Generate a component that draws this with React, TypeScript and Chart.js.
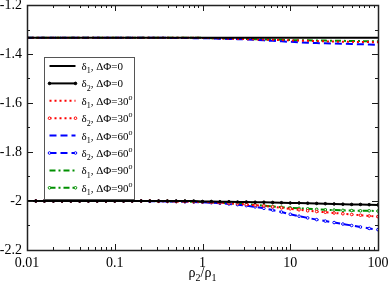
import React, { useEffect, useRef } from "react";
import { Chart, registerables } from "chart.js";

Chart.register(...registerables);

// ---- data ----
const xValues = [
  0.01, 0.0126, 0.0158, 0.02, 0.0251, 0.0316, 0.0398, 0.0501, 0.0631, 0.0794,
  0.1, 0.126, 0.158, 0.2, 0.251, 0.316, 0.398, 0.501, 0.631, 0.794,
  1, 1.26, 1.58, 2, 2.51, 3.16, 3.98, 5.01, 6.31, 7.94,
  10, 12.6, 15.8, 20, 25.1, 31.6, 39.8, 50.1, 63.1, 79.4, 100,
];

const delta1_0 = [
  -1.3333, -1.3333, -1.3333, -1.3333, -1.3333, -1.3333, -1.3333, -1.3333, -1.3333, -1.3333,
  -1.3333, -1.3333, -1.3333, -1.3333, -1.3333, -1.3333, -1.3333, -1.3333, -1.3333, -1.3333,
  -1.3333, -1.3333, -1.3333, -1.3333, -1.3333, -1.3333, -1.3333, -1.3333, -1.3333, -1.3333,
  -1.3333, -1.3333, -1.3333, -1.3333, -1.3333, -1.3333, -1.3333, -1.3333, -1.3333, -1.3333, -1.3333,
];
const delta2_0 = [
  -2.0, -2.0, -2.0, -2.0, -2.0, -2.0, -2.0, -2.0, -2.0, -2.0,
  -2.0, -2.0, -2.0, -2.0, -2.0, -2.0, -2.0, -2.0, -2.0, -2.0,
  -2.002, -2.002, -2.003, -2.003, -2.004, -2.004, -2.005, -2.005, -2.006, -2.007,
  -2.008, -2.008, -2.009, -2.01, -2.011, -2.012, -2.013, -2.014, -2.014, -2.015, -2.016,
];
const delta1_30 = [
  -1.3333, -1.3333, -1.3333, -1.3333, -1.3333, -1.3333, -1.3333, -1.3333, -1.3333, -1.3333,
  -1.3333, -1.3333, -1.3333, -1.3333, -1.3333, -1.3333, -1.3333, -1.3333, -1.3333, -1.3333,
  -1.3343, -1.3353, -1.3363, -1.3373, -1.3383, -1.3393, -1.3403, -1.3413, -1.3423, -1.3433,
  -1.3443, -1.3453, -1.3463, -1.3473, -1.3483, -1.3493, -1.3503, -1.3503, -1.3513, -1.3513, -1.3523,
];
const delta2_30 = [
  -2.0, -2.0, -2.0, -2.0, -2.0, -2.0, -2.0, -2.0, -2.0, -2.0,
  -2.0, -2.0, -2.0, -2.0, -2.0, -2.001, -2.001, -2.002, -2.002, -2.003,
  -2.004, -2.005, -2.007, -2.009, -2.011, -2.014, -2.017, -2.02, -2.024, -2.028,
  -2.032, -2.036, -2.04, -2.043, -2.046, -2.049, -2.052, -2.055, -2.058, -2.061, -2.064,
];
const delta1_60 = [
  -1.3333, -1.3333, -1.3333, -1.3333, -1.3333, -1.3333, -1.3333, -1.3333, -1.3333, -1.3333,
  -1.3333, -1.3333, -1.3333, -1.3333, -1.3333, -1.3333, -1.3343, -1.3343, -1.3343, -1.3353,
  -1.3353, -1.3363, -1.3373, -1.3383, -1.3393, -1.3403, -1.3423, -1.3443, -1.3463, -1.3483,
  -1.3503, -1.3523, -1.3543, -1.3553, -1.3563, -1.3573, -1.3583, -1.3593, -1.3603, -1.3613, -1.3623,
];
const delta2_60 = [
  -2.0, -2.0, -2.0, -2.0, -2.0, -2.0, -2.0, -2.0, -2.0, -2.0,
  -2.0, -2.0, -2.0, -2.0, -2.001, -2.001, -2.002, -2.002, -2.003, -2.004,
  -2.005, -2.007, -2.009, -2.012, -2.015, -2.019, -2.024, -2.03, -2.037, -2.045,
  -2.054, -2.062, -2.069, -2.076, -2.082, -2.088, -2.094, -2.1, -2.106, -2.112, -2.117,
];
const delta1_90 = [
  -1.3333, -1.3333, -1.3333, -1.3333, -1.3333, -1.3333, -1.3333, -1.3333, -1.3333, -1.3333,
  -1.3333, -1.3333, -1.3333, -1.3333, -1.3333, -1.3333, -1.3333, -1.3333, -1.3333, -1.3333,
  -1.3343, -1.3353, -1.3363, -1.3363, -1.3373, -1.3383, -1.3393, -1.3403, -1.3413, -1.3423,
  -1.3433, -1.3443, -1.3443, -1.3453, -1.3453, -1.3463, -1.3463, -1.3473, -1.3473, -1.3483, -1.3483,
];
const delta2_90 = [
  -2.0, -2.0, -2.0, -2.0, -2.0, -2.0, -2.0, -2.0, -2.0, -2.0,
  -2.0, -2.0, -2.0, -2.0, -2.0, -2.001, -2.001, -2.002, -2.002, -2.003,
  -2.004, -2.005, -2.007, -2.009, -2.011, -2.013, -2.016, -2.019, -2.022, -2.025,
  -2.028, -2.03, -2.032, -2.034, -2.036, -2.037, -2.038, -2.039, -2.04, -2.04, -2.041,
];

const legendLabels = [
  "δ_1, ΔΦ=0",
  "δ_2, ΔΦ=0",
  "δ_1, ΔΦ=30^o",
  "δ_2, ΔΦ=30^o",
  "δ_1, ΔΦ=60^o",
  "δ_2, ΔΦ=60^o",
  "δ_1, ΔΦ=90^o",
  "δ_1, ΔΦ=90^o",
];

const xTickValues = [0.01, 0.1, 1, 10, 100];
const yTickValues = [-1.2, -1.4, -1.6, -1.8, -2.0, -2.2];
const yTickLabels = ["-1.2", "-1.4", "-1.6", "-1.8", "-2", "-2.2"];
const yMinorTicks = [-1.3, -1.5, -1.7, -1.9, -2.1];
const xTitle = "ρ_2/ρ_1";

// ---- styles ----
const BLACK = "#000000";
const RED = "#ff0000";
const BLUE = "#0000ff";
const GREEN = "#008f00";
const SERIF = "'Liberation Serif', 'Times New Roman', 'DejaVu Serif', serif";

const seriesDefs = [
  { data: delta1_0, color: BLACK, dash: [] as number[], marker: false },
  { data: delta2_0, color: BLACK, dash: [] as number[], marker: true },
  { data: delta1_30, color: RED, dash: [2, 3], marker: false },
  { data: delta2_30, color: RED, dash: [2, 3], marker: true },
  { data: delta1_60, color: BLUE, dash: [7, 4], marker: false },
  { data: delta2_60, color: BLUE, dash: [7, 4], marker: true },
  { data: delta1_90, color: GREEN, dash: [6, 3, 2, 3], marker: false },
  { data: delta2_90, color: GREEN, dash: [6, 3, 2, 3], marker: true },
];

function drawRich(ctx: CanvasRenderingContext2D, text: string, x: number, y: number, size: number, align: "left" | "center") {
  const parts: { t: string; mode: number }[] = [];
  let i = 0;
  while (i < text.length) {
    const c = text[i];
    if ((c === "_" || c === "^") && i + 1 < text.length) {
      parts.push({ t: text[i + 1], mode: c === "_" ? 1 : 2 });
      i += 2;
    } else {
      if (parts.length && parts[parts.length - 1].mode === 0) parts[parts.length - 1].t += c;
      else parts.push({ t: c, mode: 0 });
      i++;
    }
  }
  const small = Math.round(size * 0.7);
  const widths = parts.map((p) => {
    ctx.font = `${p.mode ? small : size}px ${SERIF}`;
    return ctx.measureText(p.t).width;
  });
  const total = widths.reduce((a, b) => a + b, 0);
  let cx = align === "center" ? x - total / 2 : x;
  ctx.textBaseline = "alphabetic";
  ctx.textAlign = "left";
  parts.forEach((p, k) => {
    ctx.font = `${p.mode ? small : size}px ${SERIF}`;
    const dy = p.mode === 1 ? size * 0.3 : p.mode === 2 ? -size * 0.45 : 0;
    ctx.fillText(p.t, cx, y + dy);
    cx += widths[k];
  });
}

const decorPlugin = {
  id: "decor",
  afterDraw(chart: any) {
    const { ctx, chartArea: a, scales } = chart;
    const xs = scales.x;
    const ys = scales.y;
    ctx.save();
    ctx.strokeStyle = "#1a1a1a";
    ctx.lineWidth = 1;
    ctx.setLineDash([]);
    ctx.beginPath();
    const hTick = (v: number, len: number) => {
      const p = Math.round(ys.getPixelForValue(v)) + 0.5;
      ctx.moveTo(a.left, p);
      ctx.lineTo(a.left + len, p);
      ctx.moveTo(a.right, p);
      ctx.lineTo(a.right - len, p);
    };
    const vTick = (v: number, len: number) => {
      const p = Math.round(xs.getPixelForValue(v)) + 0.5;
      ctx.moveTo(p, a.bottom);
      ctx.lineTo(p, a.bottom - len);
      ctx.moveTo(p, a.top);
      ctx.lineTo(p, a.top + len);
    };
    yTickValues.forEach((v) => hTick(v, 6));
    yMinorTicks.forEach((v) => hTick(v, 3));
    xTickValues.forEach((v) => vTick(v, 6));
    xTickValues.slice(0, -1).forEach((d) => {
      for (let m = 2; m <= 9; m++) vTick(d * m, 3);
    });
    ctx.stroke();
    ctx.lineWidth = 1.5;
    ctx.strokeStyle = "#222";
    ctx.strokeRect(Math.round(a.left) + 0.5, Math.round(a.top) + 0.5, Math.round(a.right - a.left), Math.round(a.bottom - a.top));

    // legend
    const bx = Math.round(a.left) + 17 + 0.5;
    const by = Math.round(a.top) + 52 + 0.5;
    const bw = 90;
    const bh = 142;
    ctx.fillStyle = "#ffffff";
    ctx.fillRect(bx, by, bw, bh);
    ctx.lineWidth = 1;
    ctx.strokeStyle = "#555";
    ctx.strokeRect(bx, by, bw, bh);
    seriesDefs.forEach((s, k) => {
      const cy = by + 8.5 + k * 17.4;
      ctx.strokeStyle = s.color;
      ctx.lineWidth = 2;
      ctx.setLineDash(s.dash);
      ctx.beginPath();
      ctx.moveTo(bx + 5, cy);
      ctx.lineTo(bx + 31, cy);
      ctx.stroke();
      ctx.setLineDash([]);
      if (s.marker) {
        [bx + 5, bx + 31].forEach((mx) => {
          ctx.beginPath();
          ctx.arc(mx, cy, 1.3, 0, Math.PI * 2);
          ctx.fillStyle = s.color === BLACK ? BLACK : "#fff";
          ctx.fill();
          ctx.lineWidth = 1;
          ctx.stroke();
        });
      }
      ctx.fillStyle = "#000";
      drawRich(ctx, legendLabels[k], bx + 37, cy + 4, 11, "left");
    });

    // x axis title
    ctx.fillStyle = "#000";
    drawRich(ctx, xTitle, (a.left + a.right) / 2, 277, 14, "center");
    ctx.restore();
  },
};

export default function App() {
  const ref = useRef<HTMLCanvasElement | null>(null);
  useEffect(() => {
    document.body.style.margin = "0";
    const canvas = ref.current;
    if (!canvas) return;
    const datasets = seriesDefs.map((s, k) => ({
      label: legendLabels[k].replace("_1", "₁").replace("_2", "₂").replace("^o", "°"),
      data: xValues.map((x, i) => ({ x, y: s.data[i] })),
      borderColor: s.color,
      backgroundColor: s.color,
      borderWidth: 2,
      borderDash: s.dash,
      pointRadius: s.marker ? 1.3 : 0,
      pointBorderWidth: 1,
      pointBackgroundColor: s.color === BLACK ? BLACK : "#ffffff",
      pointBorderColor: s.color,
      tension: 0,
      fill: false,
    }));
    const chart = new Chart(canvas, {
      type: "line",
      data: { datasets },
      options: {
        animation: false,
        responsive: false,
        devicePixelRatio: 1,
        layout: { padding: { top: 5, right: 12, left: 0, bottom: 0 } },
        plugins: { legend: { display: false }, tooltip: { enabled: false } },
        scales: {
          x: {
            type: "logarithmic",
            min: 0.01,
            max: 100,
            grid: { display: false, drawTicks: false },
            border: { display: false },
            afterBuildTicks: (scale: any) => {
              scale.ticks = xTickValues.map((v) => ({ value: v }));
            },
            afterFit: (scale: any) => {
              scale.height = 35;
              scale.paddingLeft = 0;
              scale.paddingRight = 0;
            },
            ticks: {
              autoSkip: false,
              maxRotation: 0,
              padding: 5,
              color: "#000",
              font: { family: SERIF, size: 14 },
              callback: (v: any) => String(v),
            },
          },
          y: {
            type: "linear",
            min: -2.2,
            max: -1.2,
            grid: { display: false, drawTicks: false },
            border: { display: false },
            afterBuildTicks: (scale: any) => {
              scale.ticks = yTickValues.map((v) => ({ value: v }));
            },
            afterFit: (scale: any) => {
              scale.width = 27;
              scale.paddingTop = 0;
              scale.paddingBottom = 0;
            },
            ticks: {
              autoSkip: false,
              padding: 5,
              color: "#000",
              font: { family: SERIF, size: 14 },
              callback: (_v: any, i: number) => yTickLabels[i],
            },
          },
        },
      },
      plugins: [decorPlugin],
    });
    return () => chart.destroy();
  }, []);
  return (
    <div style={{ width: 390, height: 285 }}>
      <canvas ref={ref} width={390} height={285} style={{ display: "block" }} />
    </div>
  );
}
